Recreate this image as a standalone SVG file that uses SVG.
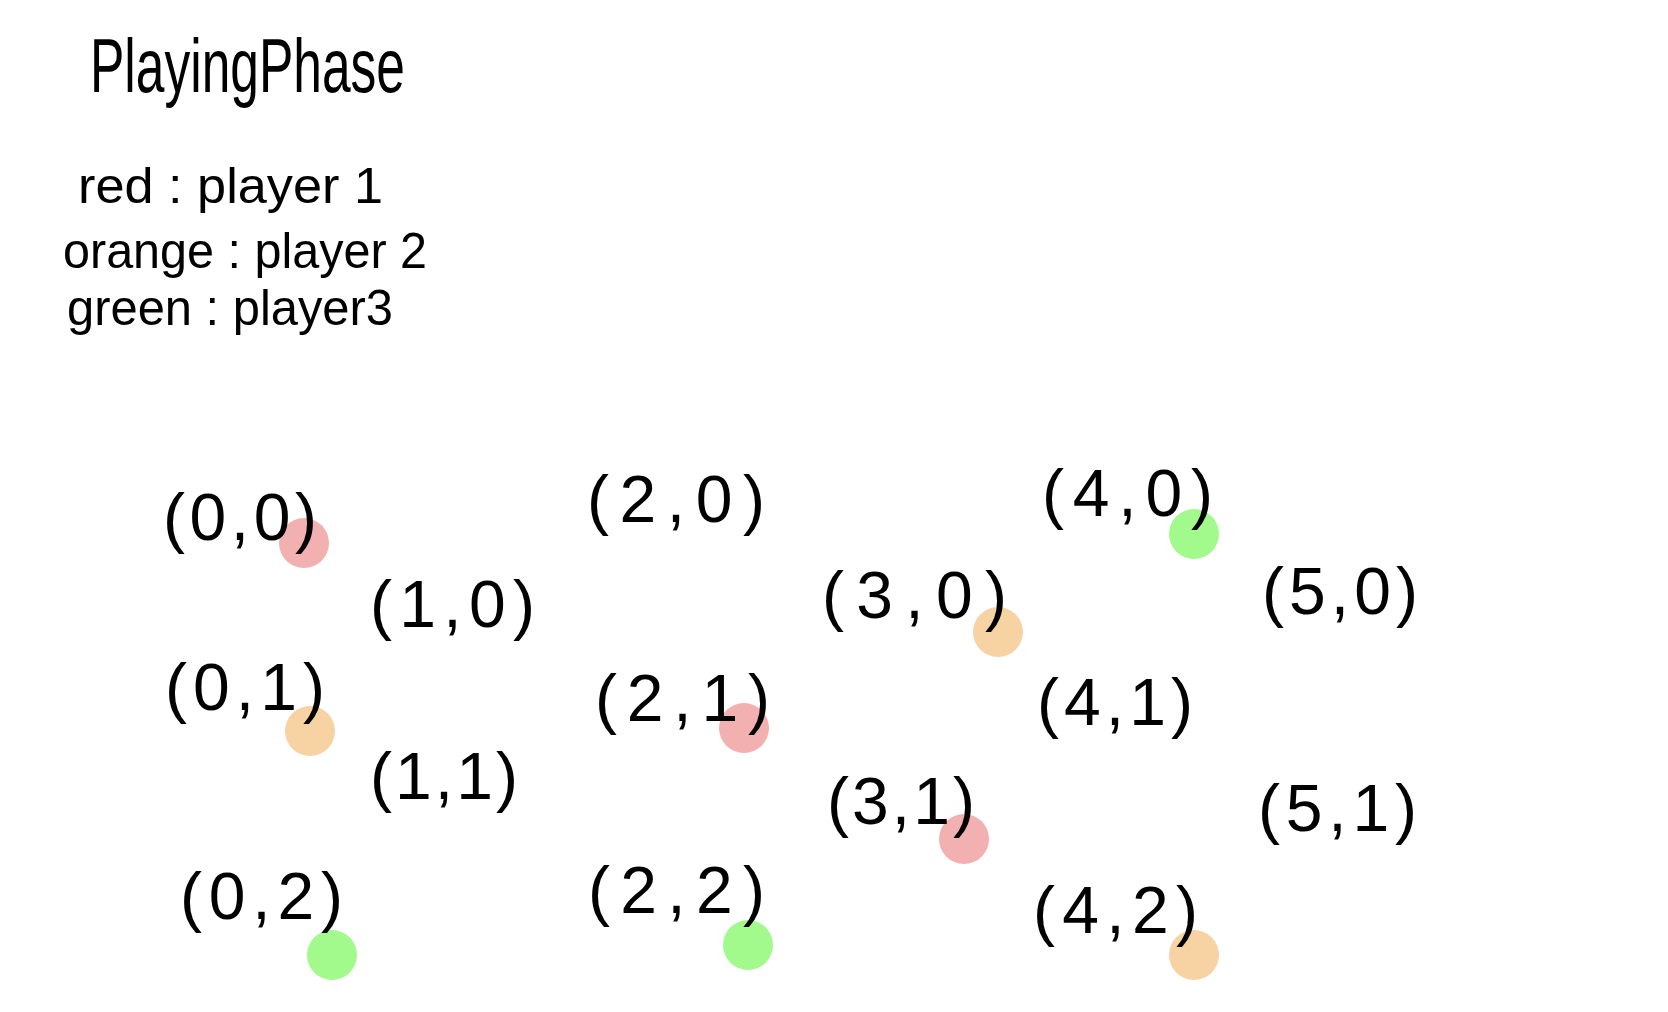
<svg xmlns="http://www.w3.org/2000/svg" width="1668" height="1012" viewBox="0 0 1668 1012">
<style>
text{font-family:"Liberation Sans",Arial,sans-serif;fill:#000}
.lbl{font-size:66px}
.hd{font-size:76px}
.lg{font-size:50px}
.red{fill:#f3b0b0}
.orange{fill:#f7d2a3}
.green{fill:#a3fa8c}
</style>
<rect width="1668" height="1012" fill="#fff"/>
<g id="legend">
<text class="hd" x="90" y="92" textLength="315" lengthAdjust="spacingAndGlyphs">PlayingPhase</text>
<text class="lg" x="78" y="203" textLength="305" lengthAdjust="spacingAndGlyphs">red : player 1</text>
<text class="lg" x="63" y="268" textLength="364" lengthAdjust="spacingAndGlyphs">orange : player 2</text>
<text class="lg" x="67" y="325" textLength="326" lengthAdjust="spacingAndGlyphs">green : player3</text>
</g>
<g id="n00"><circle class="red" cx="304" cy="543" r="25"/><text class="lbl" x="163" y="540" textLength="154" lengthAdjust="spacing">(0,0)</text></g>
<g id="n10"><text class="lbl" x="370" y="627" textLength="165" lengthAdjust="spacing">(1,0)</text></g>
<g id="n01"><circle class="orange" cx="310" cy="731" r="25"/><text class="lbl" x="165" y="710" textLength="160" lengthAdjust="spacing">(0,1)</text></g>
<g id="n11"><text class="lbl" x="370" y="799" textLength="148" lengthAdjust="spacing">(1,1)</text></g>
<g id="n02"><circle class="green" cx="332" cy="955" r="25"/><text class="lbl" x="180" y="919" textLength="163" lengthAdjust="spacing">(0,2)</text></g>
<g id="n20"><text class="lbl" x="587" y="522" textLength="178" lengthAdjust="spacing">(2,0)</text></g>
<g id="n30"><circle class="orange" cx="998" cy="632" r="25"/><text class="lbl" x="822" y="618" textLength="185" lengthAdjust="spacing">(3,0)</text></g>
<g id="n21"><circle class="red" cx="744" cy="728" r="25"/><text class="lbl" x="595" y="721" textLength="175" lengthAdjust="spacing">(2,1)</text></g>
<g id="n31"><circle class="red" cx="964" cy="839" r="25"/><text class="lbl" x="827" y="824" textLength="148" lengthAdjust="spacing">(3,1)</text></g>
<g id="n22"><circle class="green" cx="748" cy="945" r="25"/><text class="lbl" x="588" y="913" textLength="177" lengthAdjust="spacing">(2,2)</text></g>
<g id="n40"><circle class="green" cx="1194" cy="534" r="25"/><text class="lbl" x="1042" y="516" textLength="171" lengthAdjust="spacing">(4,0)</text></g>
<g id="n50"><text class="lbl" x="1262" y="614" textLength="156" lengthAdjust="spacing">(5,0)</text></g>
<g id="n41"><text class="lbl" x="1037" y="725" textLength="156" lengthAdjust="spacing">(4,1)</text></g>
<g id="n51"><text class="lbl" x="1258" y="831" textLength="159" lengthAdjust="spacing">(5,1)</text></g>
<g id="n42"><circle class="orange" cx="1194" cy="955" r="25"/><text class="lbl" x="1033" y="933" textLength="165" lengthAdjust="spacing">(4,2)</text></g>
</svg>
